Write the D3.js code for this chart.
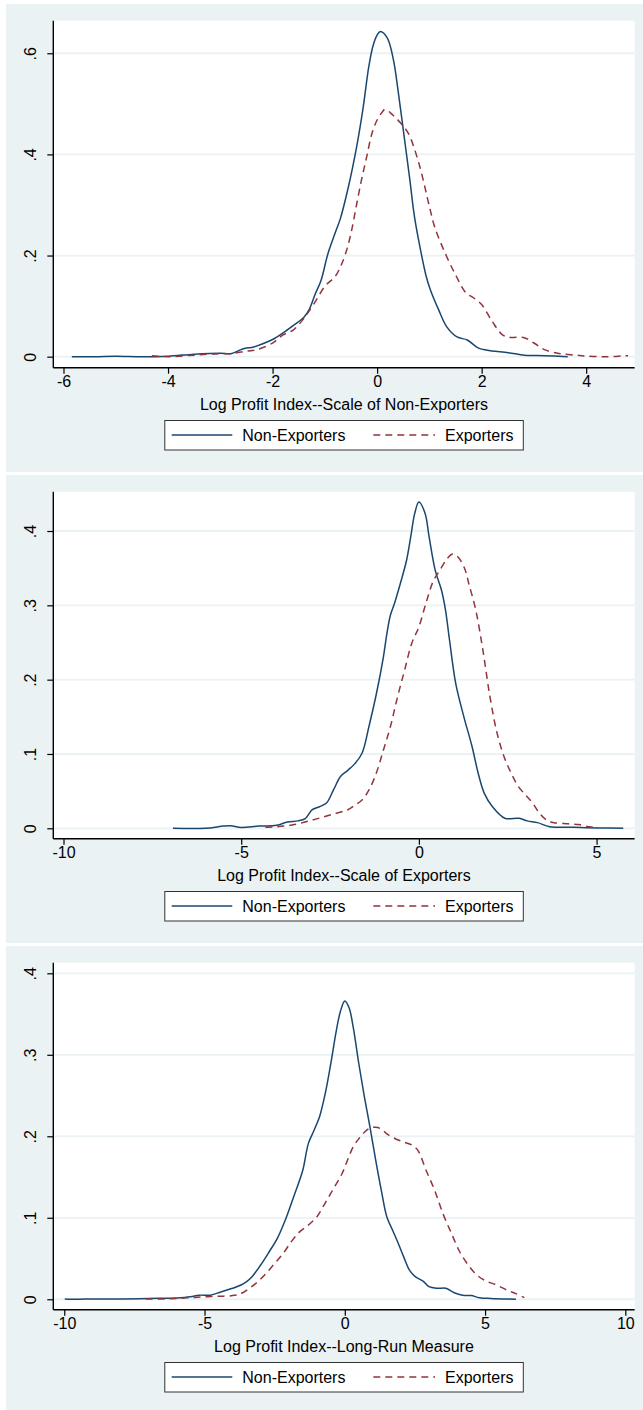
<!DOCTYPE html>
<html>
<head>
<meta charset="utf-8">
<script src="https://cdn.jsdelivr.net/npm/d3@7"></script>
<style>
  html, body { margin: 0; padding: 0; background: #ffffff; }
  svg { display: block; }
  text { font-family: "Liberation Sans", Arial, Helvetica, sans-serif; }
</style>
</head>
<body>
<svg id="chart" width="643" height="1410"></svg>
<script>
// Kernel density estimates of the log profit index, [x, density]

// Scale of non-exporters
const nonExpScaleNonExp = [
  [-5.84, 0.000], [-5.4, 0.000], [-5.0, 0.001], [-4.5, 0.000], [-4.0, 0.001],
  [-3.5, 0.005], [-3.0, 0.007], [-2.8, 0.006], [-2.6, 0.014], [-2.5, 0.017],
  [-2.4, 0.018], [-2.2, 0.025], [-2.0, 0.034], [-1.8, 0.047], [-1.6, 0.062],
  [-1.4, 0.078], [-1.3, 0.093], [-1.18, 0.125], [-1.075, 0.150], [-0.94, 0.204],
  [-0.784, 0.250], [-0.706, 0.272], [-0.549, 0.336], [-0.392, 0.415], [-0.275, 0.487],
  [-0.157, 0.575], [-0.078, 0.615], [0.0, 0.636], [0.063, 0.643], [0.196, 0.630],
  [0.314, 0.586], [0.392, 0.533], [0.51, 0.441], [0.627, 0.349], [0.706, 0.283],
  [0.784, 0.236], [0.941, 0.158], [1.02, 0.132], [1.176, 0.093], [1.333, 0.059],
  [1.529, 0.039], [1.725, 0.033], [1.922, 0.018], [2.039, 0.014], [2.196, 0.011],
  [2.51, 0.008], [2.824, 0.003], [3.2, 0.002], [3.647, 0.000]
];
const expScaleNonExp = [
  [-4.31, 0.002], [-4.0, 0.000], [-3.5, 0.003], [-3.0, 0.006], [-2.8, 0.006],
  [-2.5, 0.011], [-2.3, 0.014], [-2.0, 0.027], [-1.8, 0.043], [-1.6, 0.053],
  [-1.4, 0.076], [-1.2, 0.106], [-1.0, 0.139], [-0.8, 0.159], [-0.7, 0.178],
  [-0.6, 0.205], [-0.5, 0.244], [-0.4, 0.297], [-0.3, 0.349], [-0.2, 0.395],
  [-0.1, 0.441], [0.0, 0.468], [0.1, 0.484], [0.15, 0.489], [0.3, 0.478],
  [0.45, 0.462], [0.6, 0.441], [0.8, 0.382], [1.0, 0.297], [1.1, 0.257],
  [1.3, 0.205], [1.5, 0.162], [1.7, 0.126], [1.85, 0.116], [2.0, 0.103],
  [2.2, 0.070], [2.4, 0.043], [2.55, 0.038], [2.8, 0.038], [3.0, 0.027],
  [3.2, 0.014], [3.5, 0.006], [3.8, 0.003], [4.0, 0.001], [4.4, 0.000],
  [4.8, 0.002]
];

// Scale of exporters
const nonExpScaleExp = [
  [-6.92, 0.000], [-6.0, 0.000], [-5.5, 0.003], [-5.3, 0.0035], [-5.0, 0.001],
  [-4.5, 0.003], [-4.0, 0.004], [-3.7, 0.0085], [-3.4, 0.010], [-3.2, 0.013],
  [-3.0, 0.025], [-2.8, 0.029], [-2.6, 0.034], [-2.4, 0.052], [-2.2, 0.070],
  [-2.0, 0.078], [-1.8, 0.087], [-1.6, 0.101], [-1.4, 0.138], [-1.2, 0.180],
  [-1.0, 0.230], [-0.9, 0.262], [-0.8, 0.287], [-0.69, 0.302], [-0.518, 0.330],
  [-0.345, 0.361], [-0.23, 0.392], [-0.115, 0.424], [0.0, 0.439], [0.173, 0.424],
  [0.288, 0.392], [0.46, 0.347], [0.633, 0.321], [0.748, 0.294], [0.863, 0.253],
  [1.036, 0.195], [1.266, 0.150], [1.496, 0.110], [1.669, 0.074], [1.841, 0.047],
  [2.071, 0.029], [2.417, 0.0135], [2.819, 0.0135], [3.05, 0.010], [3.337, 0.0076],
  [3.682, 0.0022], [4.373, 0.0013], [5.06, 0.0005], [5.75, 0.000]
];
const expScaleExp = [
  [-4.32, 0.0013], [-4.0, 0.002], [-3.5, 0.005], [-3.0, 0.011], [-2.5, 0.018],
  [-2.0, 0.025], [-1.8, 0.031], [-1.6, 0.038], [-1.4, 0.052], [-1.2, 0.074],
  [-1.0, 0.105], [-0.8, 0.137], [-0.6, 0.177], [-0.4, 0.213], [-0.2, 0.249],
  [0.0, 0.271], [0.2, 0.303], [0.4, 0.332], [0.6, 0.348], [0.8, 0.363],
  [0.95, 0.369], [1.1, 0.365], [1.3, 0.348], [1.4, 0.330], [1.6, 0.294],
  [1.8, 0.240], [2.0, 0.177], [2.2, 0.128], [2.4, 0.096], [2.6, 0.074],
  [2.8, 0.056], [3.0, 0.045], [3.2, 0.034], [3.4, 0.020], [3.6, 0.011],
  [3.8, 0.0076], [4.2, 0.006], [4.5, 0.005], [4.8, 0.002], [5.0, 0.001]
];

// Long-run measure
const nonExpLongRun = [
  [-9.98, 0.0004], [-9.5, 0.000], [-9.0, 0.0004], [-8.0, 0.0004], [-7.0, 0.001],
  [-6.0, 0.0016], [-5.5, 0.003], [-5.2, 0.005], [-4.8, 0.005], [-4.5, 0.008],
  [-4.0, 0.0135], [-3.7, 0.0175], [-3.5, 0.0216], [-3.3, 0.028], [-3.0, 0.042],
  [-2.7, 0.058], [-2.4, 0.075], [-2.1, 0.099], [-1.8, 0.128], [-1.5, 0.158],
  [-1.3, 0.191], [-1.1, 0.207], [-0.9, 0.224], [-0.7, 0.252], [-0.5, 0.289],
  [-0.3, 0.330], [-0.15, 0.354], [0.0, 0.366], [0.15, 0.358], [0.3, 0.334],
  [0.5, 0.289], [0.7, 0.248], [0.9, 0.211], [1.1, 0.171], [1.3, 0.134],
  [1.5, 0.101], [1.7, 0.085], [1.9, 0.069], [2.1, 0.052], [2.3, 0.036],
  [2.5, 0.028], [2.8, 0.022], [3.0, 0.0155], [3.3, 0.0135], [3.6, 0.0135],
  [3.9, 0.008], [4.2, 0.005], [4.5, 0.0045], [4.8, 0.002], [5.2, 0.001],
  [6.1, 0.000]
];
const expLongRun = [
  [-7.1, 0.0004], [-6.5, 0.0004], [-6.0, 0.001], [-5.5, 0.002], [-5.0, 0.003],
  [-4.5, 0.0037], [-4.0, 0.0045], [-3.7, 0.007], [-3.4, 0.0135], [-3.1, 0.0216],
  [-2.8, 0.032], [-2.5, 0.044], [-2.2, 0.056], [-1.9, 0.071], [-1.6, 0.083],
  [-1.3, 0.091], [-1.0, 0.101], [-0.7, 0.118], [-0.4, 0.136], [-0.1, 0.154],
  [0.1, 0.171], [0.3, 0.187], [0.5, 0.197], [0.7, 0.205], [0.9, 0.210],
  [1.1, 0.211], [1.3, 0.209], [1.5, 0.203], [1.8, 0.197], [2.1, 0.193],
  [2.4, 0.189], [2.6, 0.183], [2.9, 0.158], [3.2, 0.134], [3.5, 0.105],
  [3.8, 0.081], [4.1, 0.058], [4.4, 0.042], [4.7, 0.030], [5.0, 0.023],
  [5.4, 0.0176], [5.8, 0.011], [6.1, 0.007], [6.4, 0.002]
];

// Axis ticks and titles
const xTicks1 = [-6, -4, -2, 0, 2, 4];
const yTicks1 = [0, 0.2, 0.4, 0.6];
const xTicks2 = [-10, -5, 0, 5];
const yTicks2 = [0, 0.1, 0.2, 0.3, 0.4];
const xTicks3 = [-10, -5, 0, 5, 10];
const yTicks3 = [0, 0.1, 0.2, 0.3, 0.4];
const xTitles = [
  "Log Profit Index--Scale of Non-Exporters",
  "Log Profit Index--Scale of Exporters",
  "Log Profit Index--Long-Run Measure"
];
const seriesNames = ["Non-Exporters", "Exporters"];

// Visible axis ranges for each panel (data units)
const xRanges = [[-6.195, 4.926], [-10.287, 6.07], [-10.39, 10.33]];
const yRanges = [[-0.0218, 0.6644], [-0.014, 0.4529], [-0.0128, 0.413]];

const panels = [
  { top: 4,   height: 468, non: nonExpScaleNonExp, exp: expScaleNonExp, xt: xTicks1, yt: yTicks1 },
  { top: 475, height: 468, non: nonExpScaleExp,    exp: expScaleExp,    xt: xTicks2, yt: yTicks2 },
  { top: 946, height: 464, non: nonExpLongRun,     exp: expLongRun,     xt: xTicks3, yt: yTicks3 }
];

const colors = { non: "#1a476f", exp: "#90353b" };
const bgColor = "#eaf2f3";
const plotLeft = 53.3, plotRight = 634.6;
const plotTopOff = 16.7, plotBottomOff = 363.7;

const svg = d3.select("#chart");
const yFmt = d => d === 0 ? "0" : String(+d.toFixed(2)).replace(/^0/, "");

panels.forEach((p, i) => {
  const g = svg.append("g");
  const top = p.top + plotTopOff, bottom = p.top + plotBottomOff;

  // graph region
  g.append("rect")
    .attr("x", 6).attr("y", p.top)
    .attr("width", 643 - 6).attr("height", p.height)
    .attr("fill", bgColor);

  // plot region
  g.append("rect")
    .attr("x", plotLeft).attr("y", top)
    .attr("width", plotRight - plotLeft).attr("height", bottom - top)
    .attr("fill", "#ffffff");

  const x = d3.scaleLinear().domain(xRanges[i]).range([plotLeft, plotRight]);
  const y = d3.scaleLinear().domain(yRanges[i]).range([bottom, top]);

  // horizontal grid
  g.append("g").selectAll("line").data(p.yt).join("line")
    .attr("x1", plotLeft).attr("x2", plotRight)
    .attr("y1", d => y(d)).attr("y2", d => y(d))
    .attr("stroke", bgColor).attr("stroke-width", 1.8);

  // density curves
  const line = d3.line()
    .x(d => x(d[0])).y(d => y(d[1]))
    .curve(d3.curveCatmullRom.alpha(0.5));

  g.append("path").datum(p.non)
    .attr("d", line)
    .attr("fill", "none")
    .attr("stroke", colors.non)
    .attr("stroke-width", 1.5)
    .attr("stroke-linejoin", "round");

  g.append("path").datum(p.exp)
    .attr("d", line)
    .attr("fill", "none")
    .attr("stroke", colors.exp)
    .attr("stroke-width", 1.5)
    .attr("stroke-dasharray", "7,5");

  // y axis
  const yAxis = d3.axisLeft(y).tickValues(p.yt).tickFormat(yFmt)
    .tickSize(6).tickSizeOuter(0);
  const ya = g.append("g").attr("transform", `translate(${plotLeft},0)`).call(yAxis);
  ya.select(".domain").remove();
  ya.selectAll(".tick line").attr("stroke", "#000").attr("stroke-width", 1.2);
  ya.selectAll(".tick text")
    .attr("x", null).attr("dy", null)
    .attr("transform", "translate(-17.3,0) rotate(-90)")
    .attr("text-anchor", "middle")
    .attr("font-size", 16)
    .attr("fill", "#000")
    .style("font-family", '"Liberation Sans", Arial, sans-serif');
  g.append("line")
    .attr("x1", plotLeft).attr("x2", plotLeft)
    .attr("y1", top).attr("y2", bottom)
    .attr("stroke", "#000").attr("stroke-width", 1.4);

  // x axis
  const xAxis = d3.axisBottom(x).tickValues(p.xt).tickFormat(d3.format("d"))
    .tickSize(6).tickSizeOuter(0);
  const xa = g.append("g").attr("transform", `translate(0,${bottom})`).call(xAxis);
  xa.select(".domain").remove();
  xa.selectAll(".tick line").attr("stroke", "#000").attr("stroke-width", 1.2);
  xa.selectAll(".tick text")
    .attr("y", 19).attr("dy", null)
    .attr("font-size", 16)
    .attr("fill", "#000")
    .style("font-family", '"Liberation Sans", Arial, sans-serif')
    .text(d => d < 0 ? "-" + Math.abs(d) : String(d));
  g.append("line")
    .attr("x1", plotLeft).attr("x2", plotRight)
    .attr("y1", bottom).attr("y2", bottom)
    .attr("stroke", "#000").attr("stroke-width", 1.4);

  const cx = (plotLeft + plotRight) / 2;

  // x axis title
  g.append("text")
    .attr("x", cx).attr("y", p.top + 405.5)
    .attr("text-anchor", "middle")
    .attr("font-size", 16)
    .attr("fill", "#000")
    .text(xTitles[i]);

  // legend
  const lg = g.append("g").attr("transform", `translate(0,${p.top + 416})`);
  lg.append("rect")
    .attr("x", 164.8).attr("y", 0.5)
    .attr("width", 358.5).attr("height", 29.5)
    .attr("fill", "#ffffff")
    .attr("stroke", "#333").attr("stroke-width", 1);
  const items = [
    { name: seriesNames[0], color: colors.non, dash: null, x0: 171.7, x1: 232.3, tx: 242.3 },
    { name: seriesNames[1], color: colors.exp, dash: "7,5", x0: 373.3, x1: 435, tx: 445 }
  ];
  items.forEach(it => {
    lg.append("line")
      .attr("x1", it.x0).attr("x2", it.x1)
      .attr("y1", 15).attr("y2", 15)
      .attr("stroke", it.color).attr("stroke-width", 1.5)
      .attr("stroke-dasharray", it.dash);
    lg.append("text")
      .attr("x", it.tx).attr("y", 20.7)
      .attr("font-size", 16)
      .attr("fill", "#000")
      .text(it.name);
  });
});
</script>
</body>
</html>
